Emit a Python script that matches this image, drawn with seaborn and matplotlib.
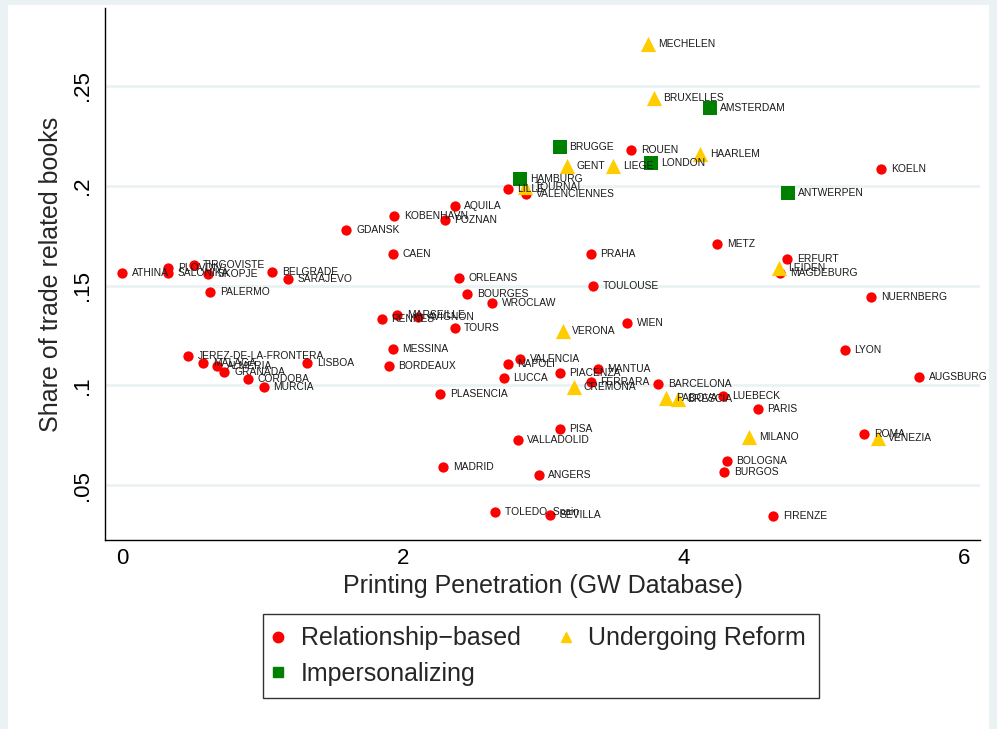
import pandas as pd
import numpy as np
import matplotlib
matplotlib.use("Agg")
import matplotlib.pyplot as plt
import seaborn as sns
from matplotlib.patches import Rectangle
from matplotlib.lines import Line2D

# Relationship-based cities
rel_city = ["ATHINA", "PLOVDIV", "SALONIKA", "TIRGOVISTE", "SKOPJE", "BELGRADE", "SARAJEVO",
            "PALERMO", "JEREZ-DE-LA-FRONTERA", "MALAGA", "ALMERIA", "GRANADA", "CORDOBA",
            "MURCIA", "LISBOA", "GDANSK", "KOBENHAVN", "POZNAN", "AQUILA", "CAEN", "ORLEANS",
            "BOURGES", "WROCLAW", "MARSEILLE", "AVIGNON", "RENNES", "TOURS", "MESSINA",
            "BORDEAUX", "NAPOLI", "VALENCIA", "LUCCA", "PLASENCIA", "LILLE", "VALENCIENNES",
            "ROUEN", "KOELN", "METZ", "ERFURT", "MAGDEBURG", "NUERNBERG", "LYON", "AUGSBURG",
            "PRAHA", "TOULOUSE", "WIEN", "MANTUA", "PIACENZA", "FERRARA", "BARCELONA",
            "LUEBECK", "PARIS", "PISA", "VALLADOLID", "MADRID", "ANGERS", "TOLEDO, Spain",
            "SEVILLA", "ROMA", "BOLOGNA", "BURGOS", "FIRENZE"]
rel_x = [0.00, 0.33, 0.33, 0.51, 0.61, 1.07, 1.18,
         0.63, 0.47, 0.58, 0.68, 0.73, 0.90,
         1.01, 1.32, 1.60, 1.94, 2.30, 2.37, 1.93, 2.40,
         2.46, 2.64, 1.96, 2.11, 1.85, 2.37, 1.93,
         1.90, 2.75, 2.84, 2.72, 2.27, 2.75, 2.88,
         3.63, 5.41, 4.24, 4.74, 4.69, 5.34, 5.15, 5.68,
         3.34, 3.36, 3.60, 3.39, 3.12, 3.34, 3.82,
         4.28, 4.53, 3.12, 2.82, 2.29, 2.97, 2.66,
         3.05, 5.29, 4.31, 4.29, 4.64]
rel_y = [0.1564, 0.1586, 0.1561, 0.1604, 0.1559, 0.1569, 0.1534,
         0.1469, 0.1148, 0.1113, 0.1098, 0.1068, 0.1033,
         0.0992, 0.1113, 0.1780, 0.1850, 0.1830, 0.1900, 0.1659, 0.1539,
         0.1459, 0.1414, 0.1353, 0.1343, 0.1333, 0.1288, 0.1183,
         0.1098, 0.1108, 0.1133, 0.1038, 0.0957, 0.1985, 0.1960,
         0.2180, 0.2085, 0.1710, 0.1634, 0.1564, 0.1444, 0.1178, 0.1043,
         0.1659, 0.1499, 0.1313, 0.1083, 0.1063, 0.1018, 0.1008,
         0.0947, 0.0882, 0.0782, 0.0727, 0.0591, 0.0551, 0.0366,
         0.0351, 0.0757, 0.0622, 0.0566, 0.0346]

# Undergoing Reform cities
ref_city = ["TOURNAI", "GENT", "LIEGE", "HAARLEM", "MECHELEN", "BRUXELLES", "LEIDEN",
            "VERONA", "CREMONA", "PADOVA", "BRESCIA", "MILANO", "VENEZIA"]
ref_x = [2.87, 3.17, 3.50, 4.12, 3.75, 3.79, 4.68, 3.14, 3.22, 3.88, 3.96, 4.47, 5.39]
ref_y = [0.1995, 0.2100, 0.2100, 0.2160, 0.2710, 0.2440, 0.1589,
         0.1273, 0.0993, 0.0937, 0.0932, 0.0742, 0.0737]

# Impersonalizing cities
imp_city = ["HAMBURG", "BRUGGE", "LONDON", "AMSTERDAM", "ANTWERPEN"]
imp_x = [2.84, 3.12, 3.77, 4.19, 4.75]
imp_y = [0.2035, 0.2196, 0.2115, 0.2390, 0.1965]

groups = ["Relationship\u2212based", "Undergoing Reform", "Impersonalizing"]

df = pd.DataFrame({
    "city": rel_city + ref_city + imp_city,
    "x": rel_x + ref_x + imp_x,
    "y": rel_y + ref_y + imp_y,
    "group": [groups[0]] * len(rel_city) + [groups[1]] * len(ref_city) + [groups[2]] * len(imp_city),
})

sns.set_style("white")
plt.rcParams["font.family"] = ["Liberation Sans", "DejaVu Sans"]

palette = {groups[0]: "#FF0000", groups[1]: "#FFCC00", groups[2]: "#008000"}
markers = {groups[0]: "o", groups[1]: "^", groups[2]: "s"}
sizes = {groups[0]: 55, groups[1]: 120, groups[2]: 110}

fig = plt.figure(figsize=(9.97, 7.29), dpi=100, facecolor="#EAF2F3")
fig.patches.append(Rectangle((8 / 997, 0), 981 / 997, 1 - 5 / 729, transform=fig.transFigure,
                             facecolor="white", edgecolor="none", zorder=-10))
ax = fig.add_axes([105 / 997, 1 - 540 / 729, 875 / 997, 532 / 729])
ax.set_facecolor("white")

for g in groups:
    sub = df[df["group"] == g]
    sns.scatterplot(data=sub, x="x", y="y", color=palette[g], marker=markers[g],
                    s=sizes[g], linewidth=0, ax=ax, legend=False, zorder=3)
    for _, r in sub.iterrows():
        ax.annotate(r["city"], (r["x"], r["y"]), xytext=(7, 0), textcoords="offset points",
                    va="center", ha="left", fontsize=7.4, color="#1a1a1a", zorder=4)

ax.set_xlim(-0.121, 6.115)
ax.set_ylim(0.0226, 0.289)
ax.set_xticks([0, 2, 4, 6])
ax.set_yticks([0.05, 0.1, 0.15, 0.2, 0.25])
ax.set_yticklabels([".05", ".1", ".15", ".2", ".25"], rotation=90, va="center")
ax.tick_params(axis="both", direction="out", length=5, width=1, colors="black", labelsize=16)
ax.tick_params(axis="x", pad=1)
ax.tick_params(axis="y", pad=4)
for y in [0.05, 0.1, 0.15, 0.2, 0.25]:
    ax.axhline(y, color="#EAF2F3", lw=2, zorder=0)
for s in ["top", "right"]:
    ax.spines[s].set_visible(False)
for s in ["left", "bottom"]:
    ax.spines[s].set_color("black")
    ax.spines[s].set_linewidth(1)

ax.set_xlabel("Printing Penetration (GW Database)", fontsize=18, labelpad=3)
ax.set_ylabel("Share of trade related books", fontsize=18, labelpad=6)

handles = [Line2D([], [], marker=markers[g], color=palette[g], linestyle="none", markersize=7.5)
           for g in [groups[0], groups[2], groups[1]]]
labels = [groups[0], groups[2], groups[1]]
leg = fig.legend(handles, labels, ncol=2, loc="center",
                 bbox_to_anchor=(541 / 997, 1 - 656 / 729), fontsize=18, frameon=True,
                 fancybox=False, edgecolor="black", handletextpad=0.8, columnspacing=1.7,
                 borderpad=0.5, labelspacing=0.45, handlelength=0.2)
leg.get_frame().set_linewidth(1)

fig.savefig("out.png", dpi=100, facecolor=fig.get_facecolor())
